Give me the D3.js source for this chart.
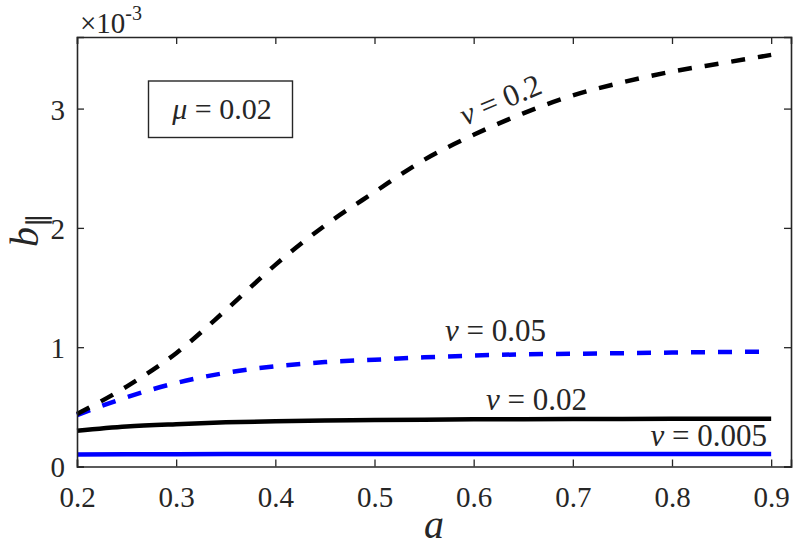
<!DOCTYPE html>
<html>
<head>
<meta charset="utf-8">
<script src="https://cdn.jsdelivr.net/npm/d3@7"></script>
</head>
<body style="margin:0">
<svg id="chart" width="793" height="550" font-family="Liberation Serif"></svg>
<script>
// ---- data (y values in units of 1e-3) ----
const aValues = [0.2, 0.25, 0.3, 0.35, 0.4, 0.45, 0.5, 0.55, 0.6, 0.65, 0.7, 0.75, 0.8, 0.85, 0.9];
const v0200 = [0.44, 0.67, 0.95, 1.31, 1.69, 2.02, 2.30, 2.57, 2.78, 2.96, 3.11, 3.22, 3.31, 3.38, 3.45];
const v0050 = [0.43, 0.58, 0.70, 0.785, 0.84, 0.875, 0.895, 0.915, 0.93, 0.94, 0.945, 0.95, 0.955, 0.96, 0.962];
const v0020 = [0.30, 0.335, 0.355, 0.37, 0.38, 0.385, 0.39, 0.392, 0.395, 0.397, 0.398, 0.399, 0.40, 0.40, 0.40];
const v0005 = [0.100, 0.102, 0.103, 0.104, 0.104, 0.105, 0.105, 0.105, 0.105, 0.105, 0.105, 0.105, 0.105, 0.105, 0.105];
const xTicks = [0.2, 0.3, 0.4, 0.5, 0.6, 0.7, 0.8, 0.9];
const yTicks = [0, 1, 2, 3];
const seriesNames = ["v = 0.2", "v = 0.05", "v = 0.02", "v = 0.005"];

const svg = d3.select("#chart");
const L = 77, R = 791, T = 37, B = 466.5;
const x = d3.scaleLinear().domain([0.2, 0.92]).range([L, R]);
const y = d3.scaleLinear().domain([0, 3.6]).range([B, T]);
const axisColor = "#262626";

// series
const series = [
  { vals: v0200, color: "#000000", dash: "14,13" },
  { vals: v0050, color: "#0000ff", dash: "14,13" },
  { vals: v0020, color: "#000000", dash: null },
  { vals: v0005, color: "#0000ff", dash: null }
];
const line = d3.line().x(d => x(d[0])).y(d => y(d[1])).curve(d3.curveMonotoneX);
const g = svg.append("g");
series.slice().reverse().forEach(s => {
  g.append("path")
    .datum(aValues.map((a, i) => [a, s.vals[i]]))
    .attr("d", line)
    .attr("fill", "none")
    .attr("stroke", s.color)
    .attr("stroke-width", 4.5)
    .attr("stroke-dasharray", s.dash);
});

// axes (box with inward ticks)
const tickLen = 7;
const xb = svg.append("g").attr("transform", `translate(0,${B})`)
  .call(d3.axisBottom(x).tickValues(xTicks).tickSize(-tickLen).tickPadding(20).tickFormat(d3.format(".1f")));
const xt = svg.append("g").attr("transform", `translate(0,${T})`)
  .call(d3.axisTop(x).tickValues(xTicks).tickSize(-tickLen).tickFormat(""));
const yl = svg.append("g").attr("transform", `translate(${L},0)`)
  .call(d3.axisLeft(y).tickValues(yTicks).tickSize(-tickLen).tickPadding(12).tickFormat(d3.format("d")));
const yr = svg.append("g").attr("transform", `translate(${R},0)`)
  .call(d3.axisRight(y).tickValues(yTicks).tickSize(-tickLen).tickFormat(""));
[xb, xt, yl, yr].forEach(ax => {
  ax.attr("font-family", null).attr("font-size", null);
  ax.select(".domain").attr("stroke", axisColor).attr("stroke-width", 1.6);
  ax.selectAll(".tick line").attr("stroke", axisColor).attr("stroke-width", 1.3);
  ax.selectAll(".tick text").attr("fill", axisColor).attr("font-family", "Liberation Serif").attr("font-size", 29);
});
yl.selectAll(".tick text").attr("dy", "0.36em");

// text helper
function txt(parent, size) {
  return parent.append("text").attr("font-family", "Liberation Serif").attr("font-size", size).attr("fill", axisColor);
}

// exponent label
const ex = txt(svg, 29).attr("x", 80).attr("y", 33);
ex.append("tspan").text("×10");
ex.append("tspan").attr("dy", -13).attr("font-size", 20).text("-3");

// axis labels
txt(svg, 40).attr("x", 434).attr("y", 538).attr("text-anchor", "middle")
  .attr("font-style", "italic").text("a");
const ylab = txt(svg, 40).attr("transform", "translate(38,230) rotate(-90)").attr("text-anchor", "middle");
ylab.append("tspan").attr("font-style", "italic").text("b");
ylab.append("tspan").attr("dy", 8).attr("font-size", 27).text("∥");

// mu box
svg.append("rect").attr("x", 148.5).attr("y", 81).attr("width", 144).attr("height", 56.5)
  .attr("fill", "#fff").attr("stroke", axisColor).attr("stroke-width", 1.4);
const mu = txt(svg, 30).attr("x", 222).attr("y", 119).attr("text-anchor", "middle");
mu.append("tspan").attr("font-style", "italic").text("μ");
mu.append("tspan").text(" = 0.02");

// series labels
function vLabel(label, xx, yy, rot, anchor, size) {
  const t = txt(svg, size).attr("transform", `translate(${xx},${yy}) rotate(${rot})`).attr("text-anchor", anchor);
  const parts = label.split(" = ");
  t.append("tspan").attr("font-style", "italic").text(parts[0]);
  t.append("tspan").text(" = " + parts[1]);
}
vLabel(seriesNames[0], 465, 126, -23, "start", 31);
vLabel(seriesNames[1], 445, 341, 0, "start", 31);
vLabel(seriesNames[2], 486, 410, 0, "start", 31);
vLabel(seriesNames[3], 767, 446, 0, "end", 31);
</script>
</body>
</html>
